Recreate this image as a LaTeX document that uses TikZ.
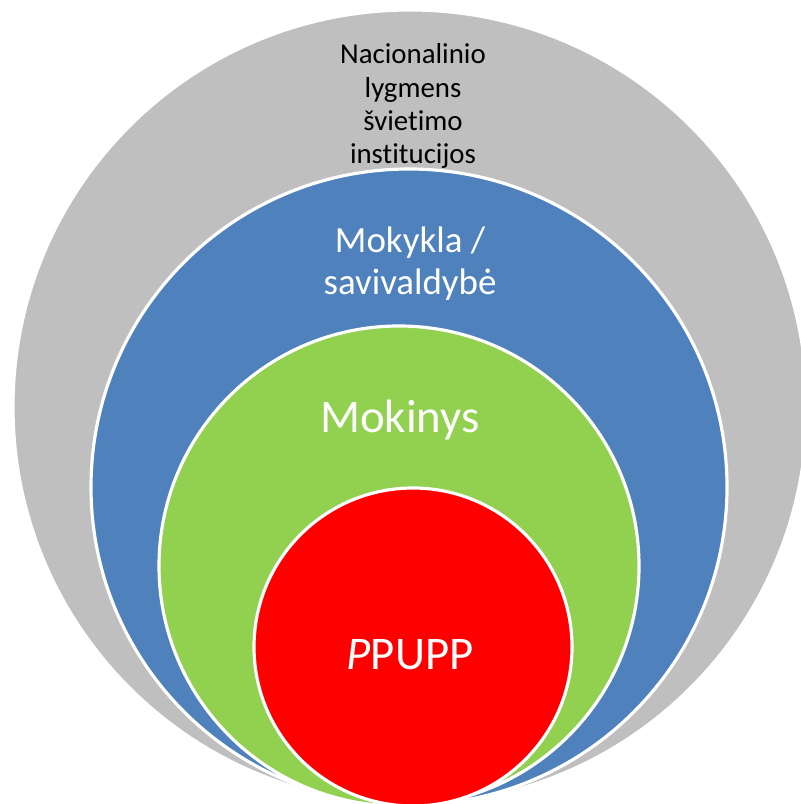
\documentclass[tikz,border=0pt]{standalone}
\usepackage{fontspec}
\setmainfont{Carlito}[Ligatures=NoCommon]
\definecolor{pilka}{HTML}{BFBFBF}
\definecolor{melyna}{HTML}{4F81BD}
\definecolor{zalia}{HTML}{92D050}
\definecolor{raudona}{HTML}{FF0000}
\begin{document}
\begin{tikzpicture}[x=0.01cm, y=-0.01cm,
		ratas/.style={draw=white, line width=0.9pt},
		zodis/.style={align=center, inner sep=0pt}]
		\useasboundingbox (0,0) rectangle (801,804);
		\clip (0,0) rectangle (801,804);

		% Apskritimai
		\filldraw[ratas, fill=pilka] (410,407) circle (397);
		\filldraw[ratas, fill=melyna] (409,487) circle (318);
		\filldraw[ratas, fill=zalia] (399,566) circle (240);
		\filldraw[ratas, fill=raudona] (413,647) circle (159);

		% Užrašai
		\node[zodis, font=\fontsize{8.2}{9.4}\selectfont] (nacional) at (413,106)
			{Nacionalinio\\lygmens\\švietimo\\institucijos};
		\node[zodis, text=white, font=\fontsize{10.5}{11.9}\selectfont] (mokykla) at (410,264)
			{Mokykla /\\savivaldybė};
		\node[zodis, text=white, font=\fontsize{13.3}{15}\selectfont] (mokinys) at (400,420) {Mokinys};
		\node[zodis, text=white, font=\fontsize{13.3}{15}\selectfont] (ppupp) at (410,655) {\textit{P}PUPP};
	\end{tikzpicture}
\end{document}
